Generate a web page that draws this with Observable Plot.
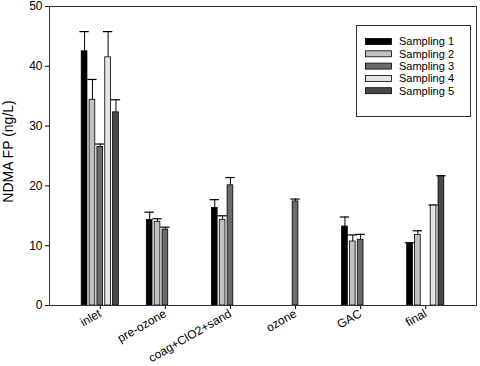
<!DOCTYPE html>
<html>
<head>
<meta charset="utf-8">
<script src="https://cdn.jsdelivr.net/npm/d3@7"></script>
<script src="https://cdn.jsdelivr.net/npm/@observablehq/plot@0.6"></script>
<style>
  html, body { margin: 0; padding: 0; background: white; }
  #chart { width: 480px; height: 366px; }
</style>
</head>
<body>
<div id="chart"></div>
<script>
const categories = ["inlet", "pre-ozone", "coag+ClO2+sand", "ozone", "GAC", "final"];
const series = ["Sampling 1", "Sampling 2", "Sampling 3", "Sampling 4", "Sampling 5"];
const colors = ["#000000", "#c0c0c0", "#6a6a6a", "#e4e4e4", "#484848"];
const yTicks = [0, 10, 20, 30, 40, 50];
const yLabel = "NDMA FP (ng/L)";

// mean values per series (null = not measured)
const sampling1 = [42.5, 14.3, 16.3, null, 13.2, 10.3];
const sampling2 = [34.4, 14.0, 14.3, null, 10.7, 11.8];
const sampling3 = [26.5, 12.7, 20.1, 17.4, 11.0, null];
const sampling4 = [41.5, null, null, null, null, 16.7];
const sampling5 = [32.3, null, null, null, null, 21.6];

// upper error per series
const error1 = [3.3, 1.3, 1.4, null, 1.6, 0.2];
const error2 = [3.4, 0.5, 0.7, null, 1.1, 0.7];
const error3 = [0.5, 0.4, 1.3, 0.4, 0.9, null];
const error4 = [4.3, null, null, null, null, 0.1];
const error5 = [2.1, null, null, null, null, 0.1];

const values = [sampling1, sampling2, sampling3, sampling4, sampling5];
const errors = [error1, error2, error3, error4, error5];

const rows = [];
series.forEach((s, j) => {
  categories.forEach((c, i) => {
    const v = values[j][i];
    if (v != null) rows.push({category: c, series: s, value: v, upper: v + errors[j][i]});
  });
});

const font = "'Liberation Sans', Arial, Helvetica, sans-serif";
const W = 480, H = 366, mL = 49, mR = 4, mT = 6, mB = 61;
const padIn = 0.43, padOut = 0.495;

// group band (same parameters as the Plot x scale) and sub-bands for the series
const groupBand = d3.scaleBand(categories, [mL, W - mR]).paddingInner(padIn).paddingOuter(padOut);
const bw = groupBand.bandwidth();
const sub = d3.scaleBand(series, [0, bw]).paddingInner(0.27).paddingOuter(0);
const sbw = sub.bandwidth();
const capExtra = 1.8;

const seriesMarks = series.flatMap((s, j) => {
  const data = rows.filter(d => d.series === s);
  const left = sub(s);
  const right = bw - left - sbw;
  const center = left + sbw / 2 - bw / 2;
  return [
    Plot.ruleX(data, {x: "category", y1: "value", y2: "upper", dx: center, stroke: "black", strokeWidth: 1}),
    Plot.tickY(data, {x: "category", y: "upper", stroke: "black", strokeWidth: 1.2,
      insetLeft: left - capExtra, insetRight: right - capExtra}),
    Plot.barY(data, {x: "category", y: "value", fill: "series", stroke: "black", strokeWidth: 0.8,
      insetLeft: left, insetRight: right})
  ];
});

const plot = Plot.plot({
  width: W,
  height: H,
  marginLeft: mL,
  marginRight: mR,
  marginTop: mT,
  marginBottom: mB,
  style: {fontFamily: font, fontSize: "12px", background: "white", color: "black", overflow: "visible"},
  x: {
    domain: categories,
    paddingInner: padIn,
    paddingOuter: padOut,
    round: false,
    label: null,
    tickRotate: -30,
    tickSize: 4,
    tickPadding: 3
  },
  y: {
    domain: [0, 50],
    ticks: yTicks,
    tickSize: 4,
    tickPadding: 3,
    label: null
  },
  color: {domain: series, range: colors},
  marks: [
    ...seriesMarks,
    Plot.frame({stroke: "#333", strokeWidth: 1})
  ]
});

document.getElementById("chart").appendChild(plot);

const svg = d3.select(plot);
const yr = plot.scale("y").range;
const y0 = Math.min(...yr), y1 = Math.max(...yr);

// y-axis title
svg.append("text")
  .attr("transform", `translate(13,${(y0 + y1) / 2 - 4}) rotate(-90)`)
  .attr("text-anchor", "middle")
  .attr("font-family", font).attr("font-size", 14)
  .text(yLabel);

// legend inside plot area
const lg = svg.append("g").attr("font-family", font).attr("font-size", 11).attr("text-anchor", "start");
lg.append("rect").attr("x", 356.5).attr("y", 25.5).attr("width", 114).attr("height", 91)
  .attr("fill", "white").attr("stroke", "#333").attr("stroke-width", 1);
series.forEach((s, j) => {
  const cy = 41.5 + j * 12.3;
  lg.append("rect").attr("x", 365.5).attr("y", cy - 3).attr("width", 26).attr("height", 6)
    .attr("fill", colors[j]).attr("stroke", "black").attr("stroke-width", 0.8);
  lg.append("text").attr("x", 399).attr("y", cy).attr("dy", "0.35em").text(s);
});
</script>
</body>
</html>
